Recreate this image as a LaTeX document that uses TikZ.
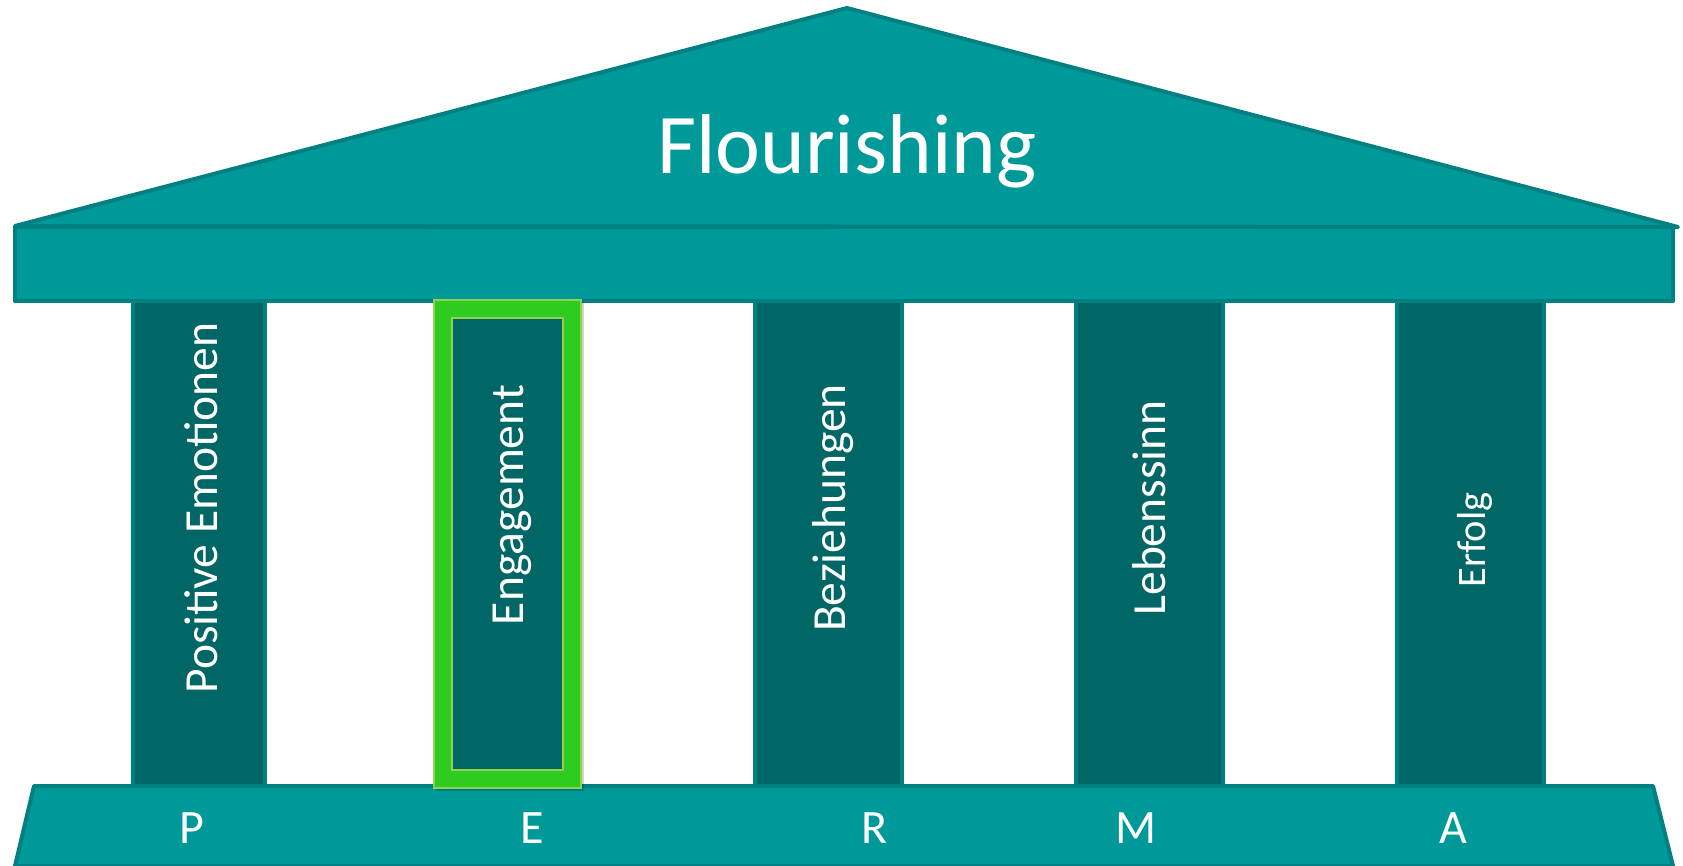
\documentclass[tikz,border=0pt]{standalone}
\usepackage{fontspec}
\setmainfont{Carlito}
\definecolor{tealfill}{RGB}{0,153,153}
\definecolor{tealedge}{RGB}{0,128,128}
\definecolor{pillarfill}{RGB}{0,102,102}
\definecolor{grn}{RGB}{46,204,30}
\definecolor{grnedge}{RGB}{146,208,80}
\begin{document}
\begin{tikzpicture}[x=1pt,y=-1pt,
  part/.style={fill=tealfill,draw=tealedge,line width=4pt,line join=round},
  pillar/.style={fill=pillarfill,draw=tealedge,line width=4pt},
  vlabel/.style={text=white,rotate=90,anchor=base,inner sep=0pt,font=\fontsize{47.5}{50}\selectfont},
  blabel/.style={text=white,anchor=base,inner sep=0pt,font=\fontsize{48}{50}\selectfont}]
\useasboundingbox (0,0) rectangle (1683,865);
% pillars
\draw[pillar] (133,296) rectangle (265,787);
\draw[pillar] (755,296) rectangle (902,787);
\draw[pillar] (1076,296) rectangle (1223,787);
\draw[pillar] (1397,296) rectangle (1544,787);
% roof
\draw[part] (15,226) -- (847,8) -- (1678,227) -- cycle;
% beam
\draw[part] (15,227) rectangle (1673,301);
% base
\draw[part] (34,786) -- (1653,786) -- (1673,866) -- (15,866) -- cycle;
% highlighted pillar
\fill[black,opacity=0.18] (436,302) rectangle (584,791);
\draw[fill=grn,draw=grnedge,line width=1.5pt] (434,300) rectangle (581,788);
\draw[fill=pillarfill,draw=grnedge,line width=1.5pt] (452,318) rectangle (563,770);
% texts
\node[text=white,anchor=base,inner sep=0pt,font=\fontsize{85}{90}\selectfont] (title) at (847,173) {Flourishing};
\node[vlabel] (pe) at (217,508) {Positive Emotionen};
\node[vlabel] (en) at (523,505) {Engagement};
\node[vlabel] (be) at (845,508) {Beziehungen};
\node[vlabel] (le) at (1165,508) {Lebenssinn};
\node[vlabel,font=\fontsize{40.5}{44}\selectfont] (er) at (1485,540) {Erfolg};
\node[blabel] (lp) at (192,843) {P};
\node[blabel] (le2) at (532,843) {E};
\node[blabel] (lr) at (875,843) {R};
\node[blabel] (lm) at (1136,843) {M};
\node[blabel] (la) at (1453,843) {A};
\end{tikzpicture}
\end{document}
